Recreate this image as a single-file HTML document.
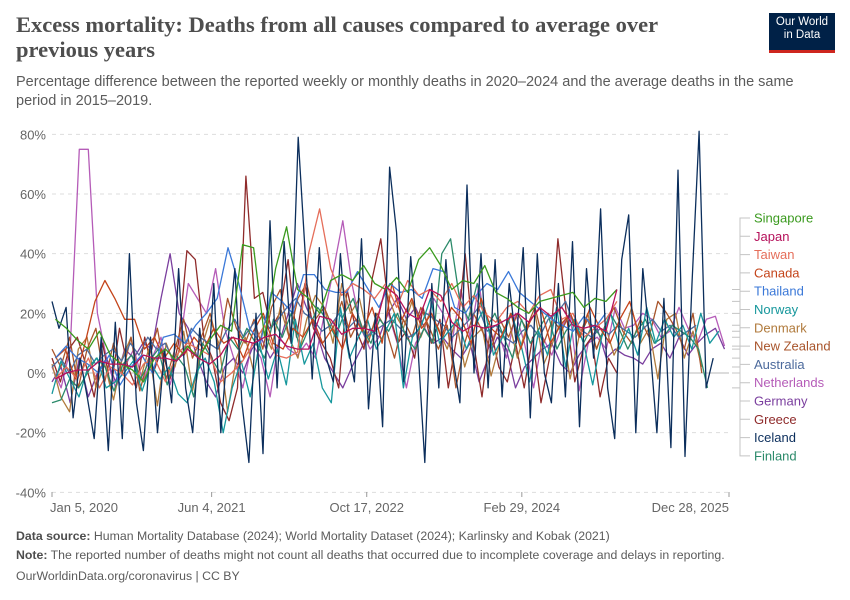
<!DOCTYPE html>
<html><head><meta charset="utf-8"><style>
body{margin:0;background:#fff;font-family:"Liberation Sans",sans-serif;}
#wrap{position:relative;width:850px;height:600px;overflow:hidden;}
.title{position:absolute;left:16px;top:12px;width:700px;font-family:"Liberation Serif",serif;font-weight:bold;font-size:22.5px;line-height:25px;color:#4e4e4e;}
.sub{position:absolute;left:16px;top:73px;width:800px;font-size:14.5px;line-height:19px;color:#5b5b5b;}
.logo{position:absolute;left:769px;top:13px;width:66px;height:40px;background:#002147;color:#fff;font-size:11.5px;line-height:13px;text-align:center;padding-top:3px;box-sizing:border-box;border-bottom:3px solid #ce261e;}
.foot{position:absolute;left:16px;font-size:12.3px;color:#5b5b5b;}
.foot b{color:#4e4e4e;}
</style></head><body>
<div id="wrap">
<div class="title">Excess mortality: Deaths from all causes compared to average over previous years</div>
<div class="sub">Percentage difference between the reported weekly or monthly deaths in 2020–2024 and the average deaths in the same period in 2015–2019.</div>
<div class="logo">Our World<br>in Data</div>
<svg id="chart" width="850" height="600" style="position:absolute;left:0;top:0"></svg>
<div class="foot" style="top:529px"><b>Data source:</b> Human Mortality Database (2024); World Mortality Dataset (2024); Karlinsky and Kobak (2021)</div>
<div class="foot" style="top:548px"><b>Note:</b> The reported number of deaths might not count all deaths that occurred due to incomplete coverage and delays in reporting.</div>
<div class="foot" style="top:569px">OurWorldinData.org/coronavirus | CC BY</div>
</div>
<script>
const yTicks=[80,60,40,20,0,-20,-40];
const xTickDates=[2020.01,2021.42,2022.79,2024.16,2025.99];
const xTickLabels=["Jan 5, 2020","Jun 4, 2021","Oct 17, 2022","Feb 29, 2024","Dec 28, 2025"];
const seriesNames=["Netherlands","Germany","Greece","Denmark","New Zealand","Australia","Finland","Norway","Canada","Thailand","Taiwan","Iceland","Singapore","Japan"];
const seriesStart=[2020.01,2020.01,2020.01,2020.01,2020.01,2020.01,2020.01,2020.01,2020.04,2020.04,2020.04,2020.01,2020.04,2020.04];
const seriesEnd=[2025.95,2025.95,2025.0,2025.75,2025.75,2025.7,2025.8,2025.9,2025.2,2024.9,2025.0,2025.85,2025.0,2025.0];
const netherlandsValues=[2,-5,8,75,75,20,5,-5,2,8,-3,5,12,-4,8,30,25,20,35,15,5,-5,10,5,-8,12,8,6,10,5,20,35,51,30,15,8,12,20,10,-5,10,15,25,20,10,28,12,30,8,15,5,20,10,-5,12,6,15,20,-6,10,12,8,22,15,16,20,18,12,14,22,15,10,18,19,9];
const germanyValues=[-3,2,-10,5,-8,0,5,-3,8,5,10,8,25,40,20,15,5,-3,-8,2,5,0,8,12,5,10,20,30,22,15,5,0,-5,2,8,15,12,20,25,18,22,15,10,12,8,5,10,-3,5,12,8,-5,2,5,8,10,3,0,6,10,15,5,8,6,5,3,8,10,5,12,6,10,13,15,8];
const greeceValues=[5,-3,8,12,3,-8,10,-5,15,2,-5,12,0,8,-2,10,41,38,12,5,-10,-16,-5,66,25,27,15,20,38,12,30,15,10,5,-5,28,15,8,32,45,20,10,14,5,22,10,18,-5,12,40,10,-8,15,2,-3,10,-5,12,-10,5,45,20,-3,8,12,-8,5,0];
const denmarkValues=[3,-8,-13,8,12,-5,3,-9,5,12,-3,8,-11,10,2,14,-6,8,18,10,-13,5,12,0,15,8,22,12,5,18,26,22,10,30,20,25,12,18,28,20,15,24,12,20,15,8,18,2,12,15,-1,10,18,5,15,20,3,10,18,-2,12,20,8,16,6,12,22,10,15,-2,18,20,5,14,2];
const newZealandValues=[8,2,12,-5,8,15,-3,10,0,12,-6,5,15,-2,8,18,5,12,20,8,25,15,10,18,8,22,28,12,25,30,18,22,15,24,12,18,10,20,15,5,18,12,22,15,8,16,-5,10,20,14,8,18,12,20,15,22,10,18,14,20,12,18,8,16,22,14,10,18,12,24,20,15,8,20,0];
const australiaValues=[2,5,0,6,8,3,6,8,4,10,6,12,8,10,4,6,15,12,10,8,14,18,12,16,20,15,18,22,25,20,18,14,16,20,15,18,12,14,16,18,15,12,14,20,18,16,12,15,18,22,14,16,12,10,14,16,12,18,20,24,16,14,12,15,13,16,14,12,15,18,14,16,12,14,16];
const finlandValues=[-10,-9,-2,-5,0,5,2,-6,3,6,-2,4,8,-4,6,2,-8,10,5,0,12,8,15,10,5,18,12,20,8,15,22,18,12,20,25,15,10,18,14,20,12,8,15,10,40,45,25,18,30,15,20,12,5,18,10,15,20,8,14,18,10,16,12,20,15,8,14,18,10,12,16,14,12,8,-5];
const norwayValues=[-7,4,-2,-8,2,5,-5,-3,0,4,-6,3,-2,2,-7,-10,0,5,-3,-20,-5,4,-8,10,-2,8,-4,18,3,10,-5,-10,22,5,12,18,8,14,20,-5,12,16,25,10,14,18,8,16,22,6,12,20,10,-3,14,6,22,2,18,10,-4,12,20,8,15,6,22,10,18,12,16,8,20,10,14];
const canadaValues=[5,8,-2,10,24,31,25,18,18,8,12,5,10,6,12,8,15,10,12,5,14,20,10,8,15,12,18,10,15,8,20,14,22,10,30,18,25,15,20,12,22,18,10,25,15,12,20,8,18,22,10,16,20,12,22,15,10,18,24,12];
const thailandValues=[5,9,5,3,0,6,-4,2,6,0,12,13,10,16,20,25,42,30,15,10,27,24,20,33,33,28,27,27,34,28,22,30,27,28,25,35,34,22,20,26,30,28,34,27,24,21,18,16,14,19,15,20];
const taiwanValues=[-2,2,-2,5,-5,2,0,-4,3,5,-3,6,10,8,6,-3,0,4,10,16,6,5,7,40,55,35,26,30,28,25,30,22,31,26,28,24,30,22,26,20,17,22,24,20,26,28,18,20,12,15,18,24];
const icelandValues=[24,15,22,-15,5,-8,-22,12,-26,17,-22,40,-10,-26,12,-20,8,-10,35,-5,-20,15,-8,30,-20,10,35,-10,-30,20,-27,51,-5,44,10,79,40,-2,42,5,-3,40,10,-3,45,-12,20,-18,69,47,-3,39,10,-30,30,-5,38,5,-10,63,0,40,-5,38,-8,30,10,42,-15,40,0,-10,30,-8,44,-18,35,5,55,-5,-22,38,53,-20,35,10,-20,25,-25,68,-28,30,81,-5,5];
const singaporeValues=[18,15,11,8,14,6,3,1,-3,5,8,4,9,5,11,16,14,43,42,12,35,49,28,25,20,31,33,31,36,30,28,32,27,38,42,36,28,31,30,36,27,25,22,20,24,25,26,27,22,25,24,28];
const japanValues=[-2,0,1,1,4,3,3,2,6,5,5,4,8,5,3,6,12,11,10,12,13,9,8,8,19,18,13,15,15,14,29,26,20,18,28,26,17,14,16,15,16,18,20,17,22,19,22,16,15,16,14,28];
const seriesValues=[netherlandsValues,germanyValues,greeceValues,denmarkValues,newZealandValues,australiaValues,finlandValues,norwayValues,canadaValues,thailandValues,taiwanValues,icelandValues,singaporeValues,japanValues];
const seriesColors=["#b55cb8","#7a3e9e","#8f2b2b","#b07a3c","#a8542b","#4c6a9c","#2b8a6a","#16979c","#c4441a","#3a78d8","#e56e5a","#0b2e5c","#3a9a1e","#b5105a"];
const legendOrder=["Singapore","Japan","Taiwan","Canada","Thailand","Norway","Denmark","New Zealand","Australia","Netherlands","Germany","Greece","Iceland","Finland"];

const NS="http://www.w3.org/2000/svg";
const svg=document.getElementById('chart');
const X0=52,X1=729,T0=2020.01,T1=2025.99,Y0=373,YS=(492-134)/120;
function xScale(t){return X0+(t-T0)/(T1-T0)*(X1-X0);}
function yScale(v){return Y0-v*YS;}
function mk(tag,attrs){const e=document.createElementNS(NS,tag);for(const k in attrs)e.setAttribute(k,attrs[k]);svg.appendChild(e);return e;}

yTicks.forEach(v=>{
  const y=yScale(v);
  const g=mk('line',{x1:X0,x2:X1,y1:y,y2:y,stroke:v===0?'#c8c8c8':'#dddddd','stroke-width':v===0?1.2:1,'stroke-dasharray':v===0?'none':'4,4'});
  
  
  const t=mk('text',{x:46,y:y+5,'text-anchor':'end','font-size':13,fill:'#666','font-family':'Liberation Sans, sans-serif'});
  t.textContent=v+'%';
  
  
});
xTickDates.forEach((d,i)=>{
  const x=xScale(d);
  const tk=mk('line',{x1:x,x2:x,y1:492,y2:497,stroke:'#999'});
  
  
  const anchor=i===0?'start':(i===xTickDates.length-1?'end':'middle');
  const t=mk('text',{x:i===0?x-2:x,y:512,'text-anchor':anchor,'font-size':13,fill:'#666','font-family':'Liberation Sans, sans-serif'});
  t.textContent=xTickLabels[i];
  
  
});

const endY={};
seriesValues.forEach((vals,s)=>{
  const n=vals.length;
  const pts=vals.map((v,i)=>{
    const t=seriesStart[s]+(seriesEnd[s]-seriesStart[s])*i/(n-1);
    return xScale(t).toFixed(1)+','+yScale(v).toFixed(1);
  });
  const p=mk('polyline',{points:pts.join(' '),fill:'none',stroke:seriesColors[s],'stroke-width':1.3,'stroke-linejoin':'round'});
  
  
  endY[seriesNames[s]]=yScale(vals[n-1]);
});

legendOrder.forEach((name,i)=>{
  const ly=218+i*18.3;
  const s=seriesNames.indexOf(name);
  const sy=Math.max(215,Math.min(458,endY[name]));
  const bx=740;
  const c=mk('polyline',{points:`${X1+3},${sy} ${bx},${sy} ${bx},${ly} 750,${ly}`,fill:'none',stroke:'#c4c4c4','stroke-width':1});
  
  
  const t=mk('text',{x:754,y:ly+4.5,'font-size':13,fill:seriesColors[s],'font-family':'Liberation Sans, sans-serif'});
  t.textContent=name;
  
  
});
</script>
</body></html>
